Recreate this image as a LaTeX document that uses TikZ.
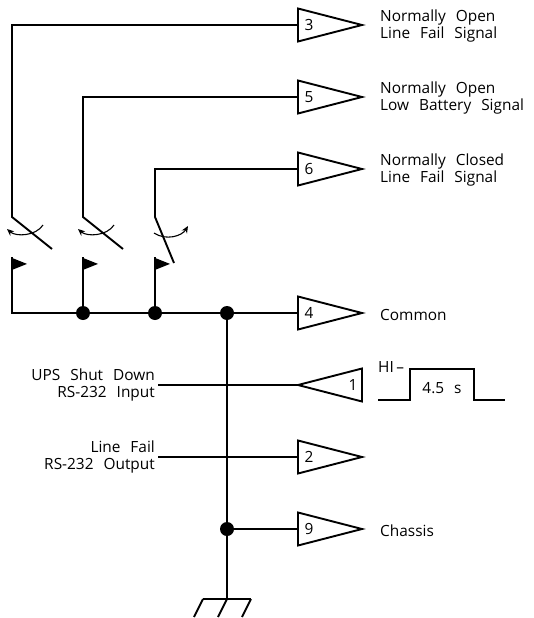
\documentclass[tikz,border=0pt]{standalone}
\usepackage{fontspec}
\setmainfont{Open Sans}[WordSpace=2.5]
\usetikzlibrary{shapes.geometric,arrows.meta}
\begin{document}
\begin{tikzpicture}[x=1pt,y=-1pt,
  wire/.style={line width=1.9pt},
  amp/.style={draw, line width=1.9pt, isosceles triangle, isosceles triangle stretches,
    minimum width=33pt, minimum height=64pt, inner sep=0pt, outer sep=0pt, fill=white, anchor=lower side},
  txt/.style={font=\fontsize{15.4}{16.2}\selectfont, inner sep=0pt},
  dot/.style={circle, fill=black, minimum size=14pt, inner sep=0pt},
  turn/.style={line width=1.1pt, -{Stealth[length=7pt,width=6pt]}}]
\useasboundingbox (0,0) rectangle (533,618);

% output triangles
\node[amp] (t3) at (298,25) {};
\node[amp] (t5) at (298,97) {};
\node[amp] (t6) at (298,169) {};
\node[amp] (t4) at (298,313) {};
\node[amp, shape border rotate=180] (t1) at (362,385) {};
\node[amp] (t2) at (298,457) {};
\node[amp] (t9) at (298,529) {};

% pin numbers
\node[txt] (n3) at ([xshift=11pt]t3.lower side) {3};
\node[txt] (n5) at ([xshift=11pt]t5.lower side) {5};
\node[txt] (n6) at ([xshift=11pt]t6.lower side) {6};
\node[txt] (n4) at ([xshift=11pt]t4.lower side) {4};
\node[txt] (n1) at ([xshift=-9pt]t1.lower side) {1};
\node[txt] (n2) at ([xshift=11pt]t2.lower side) {2};
\node[txt] (n9) at ([xshift=11pt]t9.lower side) {9};

% right labels
\node[txt, anchor=west, align=left] (l3) at (380,26) {Normally Open\\Line Fail Signal};
\node[txt, anchor=west, align=left] (l5) at (380,98) {Normally Open\\Low Battery Signal};
\node[txt, anchor=west, align=left] (l6) at (380,170) {Normally Closed\\Line Fail Signal};
\node[txt, anchor=west] (l4) at (380,315) {Common};
\node[txt, anchor=west] (l9) at (380,531) {Chassis};

% left labels
\node[txt, anchor=east, align=right] (l1) at (155,385) {UPS Shut Down\\RS-232 Input};
\node[txt, anchor=east, align=right] (l2) at (155,457) {Line Fail\\RS-232 Output};

% coordinates
\coordinate (c3) at (12,25);
\coordinate (c5) at (83,97);
\coordinate (c6) at (155,169);
\coordinate (h1) at (12,217);
\coordinate (h2) at (83,217);
\coordinate (h3) at (155,217);
\coordinate (f1) at (12,257);
\coordinate (f2) at (83,257);
\coordinate (f3) at (155,257);
\coordinate (b0) at (12,313);
\node[dot] (d2) at (83,313) {};
\node[dot] (d3) at (155,313) {};
\node[dot] (d4) at (227,313) {};
\node[dot] (d9) at (227,529) {};
\coordinate (g) at (227,599);
\coordinate (in1) at (158,385);
\coordinate (in2) at (158,457);

% wires
\draw[wire] (t3.lower side) -- (c3) -- (h1) -- (52,249);
\draw[wire] (t5.lower side) -- (c5) -- (h2) -- (123,249);
\draw[wire] (t6.lower side) -- (c6) -- (h3) -- (174,263);
\draw[wire] (f1) -- (b0) -- (d2) -- (d3) -- (d4) -- (t4.lower side);
\draw[wire] (f2) -- (d2);
\draw[wire] (f3) -- (d3);
\draw[wire] (d4) -- (d9) -- (g);
\draw[wire] (d9) -- (t9.lower side);
\draw[wire] (in1) -- (t1.apex);
\draw[wire] (in2) -- (t2.lower side);

% flags
\foreach \f in {f1,f2,f3}{
  \fill ([yshift=-0.9pt]\f) -- ++(15,6) -- ++(-15,6) -- cycle;
}

% rotation arrows
\draw[turn] (43,225) .. controls (36,236) and (16,237) .. (7,229);
\draw[turn] (114,225) .. controls (107,236) and (87,237) .. (78,229);
\draw[turn] (154,233) .. controls (166,241) and (182,236) .. (188,226);

% ground
\draw[wire] (203,599) -- (251,599);
\draw[wire] (203,599) -- (194,617);
\draw[wire] (227,599) -- (218,617);
\draw[wire] (251,599) -- (242,617);

% pulse
\draw[wire] (378,400) -- (410,400) -- (410,369) -- (474,369) -- (474,400) -- (505,400);
\node[txt, anchor=west] (hi) at (378,367) {HI\,--};
\node[txt] (dur) at (442,388) {4.5 s};
\end{tikzpicture}
\end{document}
